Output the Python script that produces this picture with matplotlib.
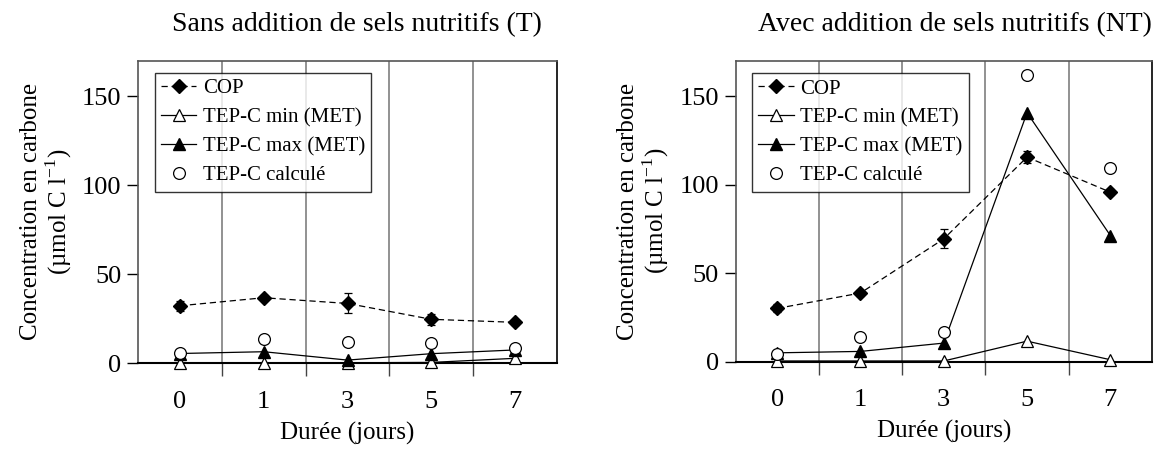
import matplotlib
matplotlib.use("Agg")
import matplotlib.pyplot as plt
import numpy as np

plt.rcParams["font.family"] = ["Liberation Serif", "DejaVu Serif"]
plt.rcParams["mathtext.fontset"] = "custom"
plt.rcParams["mathtext.rm"] = "Liberation Serif"

# Durée d'incubation (jours)
days = ["0", "1", "3", "5", "7"]

# Sans addition de sels nutritifs (T)
cop_T = [32.3, 36.8, 33.6, 24.7, 23.0]
cop_T_err = [2.8, 1.5, 5.6, 3.2, 1.5]
tep_min_T = [0.0, 0.3, 0.3, 0.5, 2.8]
tep_max_T = [5.5, 6.5, 1.8, 5.4, 7.5]
tep_calc_T = [5.8, 13.8, 11.8, 11.4, 8.4]

# Avec addition de sels nutritifs (NT)
cop_NT = [30.0, 38.7, 69.3, 115.5, 95.7]
cop_NT_err = [2.3, 1.5, 5.4, 3.4, 1.8]
tep_min_NT = [0.3, 0.3, 0.3, 11.5, 1.0]
tep_max_NT = [4.9, 5.7, 10.4, 140.6, 71.2]
tep_calc_NT = [4.5, 14.0, 16.6, 162.0, 109.5]

titles = ["Sans addition de sels nutritifs (T)",
          "Avec addition de sels nutritifs (NT)"]

W, H = 1158, 449
fig = plt.figure(figsize=(W / 100, H / 100), dpi=100)


def px_axes(x0, x1, ytop, ybot):
    return fig.add_axes([x0 / W, 1 - ybot / H, (x1 - x0) / W, (ybot - ytop) / H])


ax_T = px_axes(138, 557, 60.5, 363.3)
ax_NT = px_axes(735.5, 1152, 60.7, 361.5)

panels = [
    (ax_T, cop_T, cop_T_err, tep_min_T, tep_max_T, tep_calc_T),
    (ax_NT, cop_NT, cop_NT_err, tep_min_NT, tep_max_NT, tep_calc_NT),
]

title_x = [357, 955]

for i, (ax, cop, cop_err, tmin, tmax, tcalc) in enumerate(panels):
    x = np.arange(len(days))
    ax.plot(x, tmin, "-", color="black", lw=0.9, marker="^", ms=8,
            mfc="white", mec="black", mew=0.9, label="TEP-C min (MET)",
            zorder=3, clip_on=False)
    ax.plot(x, tmax, "-", color="black", lw=0.9, marker="^", ms=8,
            mfc="black", mec="black", label="TEP-C max (MET)", zorder=3,
            clip_on=False)
    ax.plot(x, tcalc, ls="none", marker="o", ms=8.5, mfc="white",
            mec="black", mew=0.9, label="TEP-C calculé", zorder=4,
            clip_on=False)
    ax.errorbar(x, cop, yerr=cop_err, fmt="none", ecolor="black",
                elinewidth=0.9, capsize=3, capthick=0.9, zorder=4)
    ax.plot(x, cop, ls=(0, (5, 3)), color="black", lw=0.9, marker="D", ms=7,
            mfc="black", mec="black", label="COP", zorder=5)

    ax.set_xlim(-0.5, len(days) - 0.5)
    ax.set_ylim(0, 170)
    ax.set_yticks([0, 50, 100, 150])
    ax.set_xticks(x)
    ax.set_xticklabels(days)
    ax.set_xticks(np.arange(0.5, len(days) - 0.5, 1.0), minor=True)
    ax.tick_params(axis="x", which="major", length=0, pad=20, labelsize=19)
    ax.tick_params(axis="x", which="minor", length=9, width=1.0,
                   direction="out", color="#444444")
    ax.tick_params(axis="y", which="major", length=8, width=1.0,
                   direction="out", labelsize=19, pad=4)
    ax.grid(True, axis="x", which="minor", color="#7f7f7f", lw=1.2)

    for side in ["top", "left"]:
        ax.spines[side].set_color("#555555")
        ax.spines[side].set_linewidth(1.2)
    ax.spines["right"].set_color("black")
    ax.spines["right"].set_linewidth(1.2)
    ax.spines["bottom"].set_color("black")
    ax.spines["bottom"].set_linewidth(1.5)

    ax.set_xlabel("Durée (jours)", fontsize=18, labelpad=6)
    ax.set_ylabel("Concentration en carbone\n(µmol C l$^{\\mathregular{-1}}$)",
                  fontsize=18, linespacing=1.05, labelpad=6)

    handles, labels = ax.get_legend_handles_labels()
    order = [labels.index(k) for k in
             ["COP", "TEP-C min (MET)", "TEP-C max (MET)", "TEP-C calculé"]]
    leg = ax.legend([handles[k] for k in order], [labels[k] for k in order],
                    loc="upper left", bbox_to_anchor=(0.04, 0.96),
                    fontsize=15, frameon=True, fancybox=False,
                    edgecolor="black", handlelength=1.7, handletextpad=0.3,
                    labelspacing=0.45, borderpad=0.3, borderaxespad=0.0)
    leg.get_frame().set_linewidth(1.0)

    fig.text(title_x[i] / W, 1 - 25 / H, titles[i], fontsize=20,
             ha="center", va="center")

fig.savefig("out.png", dpi=100)
